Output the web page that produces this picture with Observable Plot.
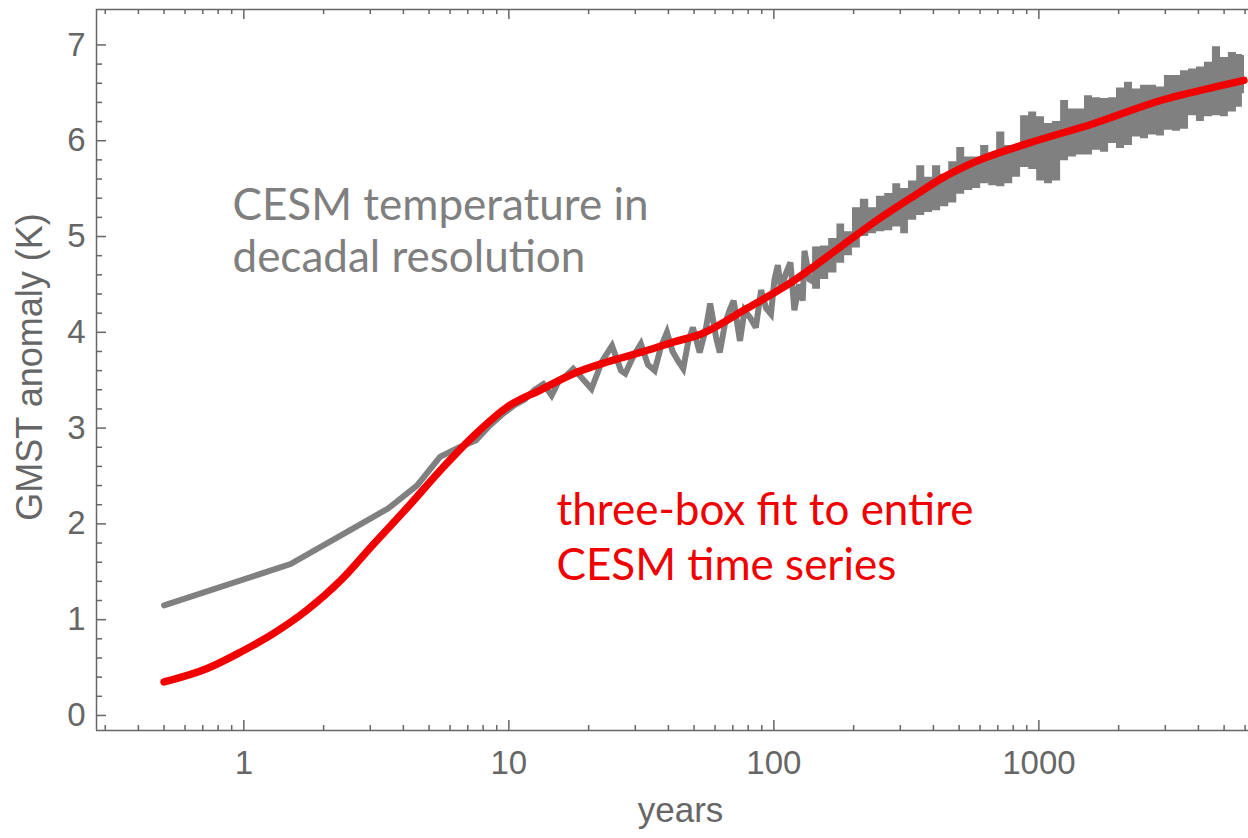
<!DOCTYPE html>
<html>
<head>
<meta charset="utf-8">
<script src="https://cdn.jsdelivr.net/npm/d3@7"></script>
<script src="https://cdn.jsdelivr.net/npm/@observablehq/plot@0.6"></script>
<style>
  html, body { margin: 0; padding: 0; background: #fff; }
  #chart { width: 1248px; height: 838px; overflow: hidden; }
</style>
</head>
<body>
<div id="chart"></div>
<script>
// CESM global-mean surface temperature anomaly (decadal resolution), early part drawn as a line
const grayYears = [0.5, 1.5, 2.5, 3.5, 4.5, 5.5, 6.5, 7.5, 8.5, 9.5, 10.5, 11.5, 12.5, 13.5, 14.5, 15.5, 16.5, 17.5, 18.5, 20.5,
  22.5, 24.5, 26.5, 27.5, 29.5, 31.5, 33.5, 35.5, 37.5, 39.5, 41.5, 43.5, 45.5, 47.5, 49.5, 52.5, 55.5, 57.5, 60.5, 62.5,
  65.5, 68.5, 70.5, 74.5, 77.5, 81.5, 85.5, 89.5, 93.5, 97.5, 100.5, 103.5, 106.5, 110.5, 115.5, 119.5, 124.5, 128.5, 130.5, 136.5,
  142.5, 146.5, 150.5];
const grayTemp = [1.15, 1.58, 1.93, 2.16, 2.40, 2.70, 2.80, 2.87, 3.03, 3.15, 3.24, 3.30, 3.40, 3.46, 3.34, 3.50, 3.55, 3.62, 3.55, 3.41,
  3.70, 3.86, 3.60, 3.57, 3.75, 3.88, 3.66, 3.60, 3.85, 4.00, 3.80, 3.70, 3.62, 3.90, 4.05, 3.79, 4.05, 4.30, 3.95, 3.79,
  4.10, 4.25, 4.33, 3.91, 4.23, 4.15, 4.05, 4.44, 4.25, 4.19, 4.55, 4.70, 4.44, 4.60, 4.73, 4.23, 4.50, 4.33, 4.85, 4.55,
  4.52, 4.89, 4.60];

// Later part: decade-to-decade spread shown as a low/high envelope
const bandYears = [140, 150, 161, 173, 185, 198, 212, 228, 244, 262, 281, 301, 322, 346, 371, 397, 426, 457, 490, 525,
  563, 603, 647, 693, 744, 797, 853, 915, 981, 1050, 1125, 1208, 1294, 1387, 1487, 1593, 1709, 1832, 1963, 2104,
  2256, 2418, 2591, 2777, 2977, 3191, 3424, 3669, 3932, 4214, 4517, 4847, 5189, 5565, 5860, 5970];
const bandLow = [4.45, 4.55, 4.62, 4.72, 4.80, 4.88, 5.00, 5.03, 5.05, 5.06, 5.10, 5.03, 5.17, 5.22, 5.25, 5.27, 5.31, 5.35, 5.44, 5.48,
  5.50, 5.55, 5.53, 5.52, 5.55, 5.62, 5.72, 5.70, 5.58, 5.55, 5.58, 5.79, 5.83, 5.85, 5.85, 5.90, 5.88, 5.97, 5.92, 5.95,
  6.04, 6.02, 6.06, 6.05, 6.11, 6.10, 6.12, 6.26, 6.20, 6.25, 6.26, 6.25, 6.30, 6.35, 6.49, 6.49];
const bandHigh = [4.89, 4.90, 4.98, 5.13, 5.05, 5.30, 5.39, 5.30, 5.42, 5.45, 5.55, 5.50, 5.58, 5.74, 5.62, 5.74, 5.65, 5.78, 5.93, 5.83,
  5.83, 5.95, 5.86, 6.09, 5.95, 5.90, 6.26, 6.30, 6.25, 6.18, 6.20, 6.42, 6.33, 6.33, 6.47, 6.45, 6.44, 6.45, 6.55, 6.61,
  6.54, 6.58, 6.58, 6.56, 6.68, 6.68, 6.73, 6.75, 6.77, 6.82, 6.98, 6.87, 6.92, 6.90, 6.89, 6.89];

// Three-box model fit to the whole CESM series
const fitYears = [0.5, 0.727, 0.97, 1.30, 1.73, 2.32, 3.09, 4.14, 5.52, 7.38, 9.86, 13.2, 17.6, 23.5, 31.4, 42.0, 52.9, 77, 119, 184,
  245, 328, 438, 586, 903, 1614, 2879, 5140, 5940];
const fitTemp = [0.35, 0.49, 0.66, 0.86, 1.10, 1.41, 1.79, 2.17, 2.56, 2.92, 3.22, 3.40, 3.57, 3.69, 3.79, 3.90, 3.98, 4.23, 4.54, 4.92,
  5.17, 5.40, 5.62, 5.79, 5.97, 6.18, 6.42, 6.59, 6.63];

const xTickLabels = [1, 10, 100, 1000];
const yTickLabels = [0, 1, 2, 3, 4, 5, 6, 7];

const grayLabel = "CESM temperature in\ndecadal resolution";
const redLabel = "three-box fit to entire\nCESM time series";

// Tables for the marks
const grayLine = grayYears.map((x, i) => ({x, y: grayTemp[i]}));
const band = bandYears.map((x, i) => ({x, lo: bandLow[i], hi: bandHigh[i]}));
const fit = fitYears.map((x, i) => ({x, y: fitTemp[i]}));

// Frame geometry
const W = 1248, H = 838;
const mL = 96, mR = 0, mT = 9, mB = 108;
const xDomain = [0.278, 6180];
const yDomain = [-0.157, 7.37];
const pxPerY = (H - mT - mB) / (yDomain[1] - yDomain[0]);
const pxPerDecade = (W - mL - mR) / Math.log10(xDomain[1] / xDomain[0]);

// Inward tick marks (Mathematica-style frame)
const xMinor = [];
for (const dec of [0.1, 1, 10, 100, 1000]) {
  for (let k = 2; k <= 9; k++) {
    const v = +(k * dec).toPrecision(3);
    if (v > xDomain[0] && v < xDomain[1]) xMinor.push(v);
  }
}
const yMinor = d3.range(0, 36).map(i => +(i * 0.2).toFixed(1)).filter(v => !yTickLabels.includes(v) && v < yDomain[1]);

const major = 10, minor = 5;
const ink = "#666";

const xTickRules = (values, len, edge, dir) =>
  Plot.ruleX(values, {x: d => d, y1: edge, y2: edge + dir * len / pxPerY, stroke: ink, strokeWidth: 1.5});
const yTickRules = (values, len) =>
  Plot.ruleY(values, {y: d => d, x1: xDomain[0], x2: xDomain[0] * Math.pow(10, len / pxPerDecade), stroke: ink, strokeWidth: 1.5});

const chart = Plot.plot({
  width: W,
  height: H,
  marginLeft: mL,
  marginRight: mR,
  marginTop: mT,
  marginBottom: mB,
  style: {background: "#fff", fontFamily: "'Liberation Sans', Arial, sans-serif", color: ink, overflow: "visible"},
  x: {type: "log", domain: xDomain},
  y: {domain: yDomain},
  marks: [
    // data
    Plot.areaY(band, {x: "x", y1: "lo", y2: "hi", fill: "#808080", curve: "step-after"}),
    Plot.line(grayLine, {x: "x", y: "y", stroke: "#808080", strokeWidth: 6, strokeLinejoin: "miter", strokeMiterlimit: 3}),
    Plot.line(fit, {x: "x", y: "y", stroke: "#f00000", strokeWidth: 7.5, curve: "monotone-x"}),

    // frame (right side lies beyond the visible edge)
    Plot.ruleX([xDomain[0]], {stroke: ink, strokeWidth: 1.5}),
    Plot.ruleY([yDomain[0], yDomain[1]], {stroke: ink, strokeWidth: 1.5}),

    // ticks
    xTickRules(xTickLabels, major, yDomain[0], 1),
    xTickRules(xMinor, minor, yDomain[0], 1),
    xTickRules(xTickLabels, major, yDomain[1], -1),
    xTickRules(xMinor, minor, yDomain[1], -1),
    yTickRules(yTickLabels, major),
    yTickRules(yMinor, 6),

    // tick labels
    Plot.axisX(xTickLabels, {tickSize: 0, tickPadding: 20, fontSize: 33, tickFormat: d => String(d), label: null}),
    Plot.axisY(yTickLabels, {tickSize: 0, tickPadding: 11, fontSize: 33, tickFormat: d => String(d), label: null}),

    // axis titles
    Plot.text(["years"], {frameAnchor: "bottom", dx: 8, dy: 91, fontSize: 35, fill: ink}),
    Plot.text(["GMST anomaly (K)"], {frameAnchor: "left", textAnchor: "middle", dx: -66, dy: -3, rotate: -90, fontSize: 36, fill: ink}),

    // annotations
    Plot.text([grayLabel], {frameAnchor: "top-left", dx: 232 - mL, dy: 174, textAnchor: "start", lineAnchor: "top",
      lineHeight: 1.18, fontSize: 44, fontFamily: "Lato, 'Open Sans', sans-serif", fill: "#7f7f7f"}),
    Plot.text([redLabel], {frameAnchor: "top-left", dx: 556 - mL, dy: 476, textAnchor: "start", lineAnchor: "top",
      lineHeight: 1.25, fontSize: 44, fontFamily: "Lato, 'Open Sans', sans-serif", fill: "#f00000"})
  ]
});

document.getElementById("chart").appendChild(chart);
</script>
</body>
</html>
